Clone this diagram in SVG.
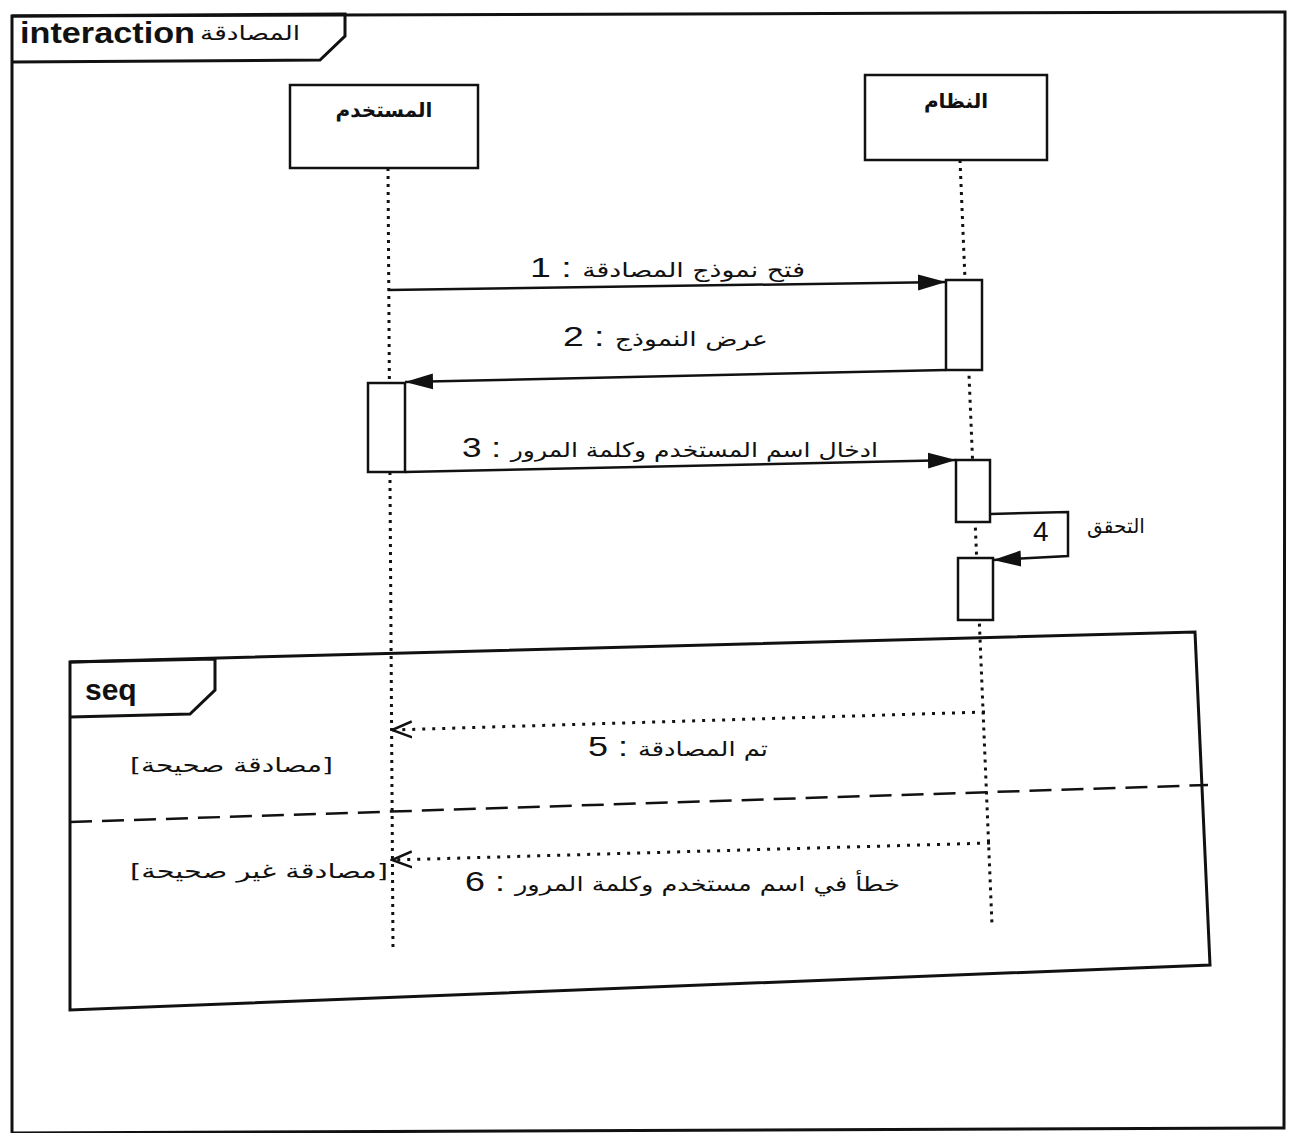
<svg xmlns="http://www.w3.org/2000/svg" width="1292" height="1133" viewBox="0 0 1292 1133">
<style>
.frame{fill:none;stroke:#111;stroke-width:3}
.box{fill:#fff;stroke:#111;stroke-width:2.5}
.life{fill:none;stroke:#111;stroke-width:3;stroke-dasharray:3 5}
.msg{fill:none;stroke:#111;stroke-width:2.5}
.ret{fill:none;stroke:#111;stroke-width:3;stroke-dasharray:3 7}
.div{fill:none;stroke:#111;stroke-width:2.5;stroke-dasharray:22 10}
.kw{font-family:"Liberation Sans",Arial,sans-serif;font-weight:bold;font-size:30px;fill:#111}
.ar{font-family:"DejaVu Sans","Noto Sans",sans-serif;font-size:20px;fill:#111}
.num{font-family:"Liberation Sans",Arial,sans-serif;font-size:28px;fill:#111}
</style>
<defs>
<marker id="fill" markerWidth="30" markerHeight="18" refX="28" refY="9" orient="auto" markerUnits="userSpaceOnUse">
<path d="M0,1 L28,9 L0,17 Z" fill="#111"/>
</marker>
<marker id="open" markerWidth="22" markerHeight="20" refX="20" refY="10" orient="auto" markerUnits="userSpaceOnUse">
<path d="M0,2 L20,10 L0,18" fill="none" stroke="#111" stroke-width="2.5"/>
</marker>
</defs>
<g id="frame">
<path class="frame" d="M12,16 L1285,12 L1284,1128 L12,1133 Z"/>
<path class="frame" d="M12,16 L345,14 L345,36 L320,60 L12,62"/>
<text class="kw" x="20" y="43" textLength="175" lengthAdjust="spacingAndGlyphs">interaction</text>
<text class="ar" x="200" y="40" font-size="15" textLength="100" lengthAdjust="spacingAndGlyphs">المصادقة</text>
</g>
<g id="user">
<rect class="box" x="290" y="85" width="188" height="83"/>
<text class="ar" x="384" y="117" text-anchor="middle" font-size="16" font-weight="bold">المستخدم</text>
</g>
<g id="system">
<rect class="box" x="865" y="75" width="182" height="85"/>
<text class="ar" x="956" y="108" text-anchor="middle" font-size="16" font-weight="bold">النظام</text>
</g>
<g id="lifelines">
<line class="life" x1="388" y1="168" x2="393" y2="948"/>
<line class="life" x1="960" y1="160" x2="992" y2="925"/>
</g>
<g id="activations">
<rect class="box" x="946" y="280" width="36" height="90"/>
<rect class="box" x="368" y="383" width="37" height="89"/>
<rect class="box" x="956" y="460" width="34" height="62"/>
<rect class="box" x="958" y="558" width="35" height="62"/>
</g>
<g id="seq">
<path class="frame" d="M70,662 L1195,632 L1210,965 L70,1010 Z"/>
<path class="frame" d="M70,662 L215,659 L215,690 L190,714 L70,717"/>
<text class="kw" x="85" y="700" font-size="27">seq</text>
<line class="div" x1="70" y1="822" x2="1208" y2="785"/>
</g>
<g id="connectors">
<line class="msg" x1="388" y1="290" x2="946" y2="282" marker-end="url(#fill)"/>
<line class="msg" x1="946" y1="370" x2="405" y2="382" marker-end="url(#fill)"/>
<line class="msg" x1="405" y1="472" x2="956" y2="460" marker-end="url(#fill)"/>
<path class="msg" d="M990,514 L1068,512 L1068,556 L993,560" marker-end="url(#fill)"/>
<line class="ret" x1="985" y1="712" x2="392" y2="730" marker-end="url(#open)"/>
<line class="ret" x1="990" y1="843" x2="392" y2="860" marker-end="url(#open)"/>
</g>
<g id="labels">
<text class="ar" x="530" y="277" textLength="275" lengthAdjust="spacingAndGlyphs"><tspan class="num">1 : </tspan>فتح نموذج المصادقة</text>
<text class="ar" x="563" y="346" textLength="205" lengthAdjust="spacingAndGlyphs"><tspan class="num">2 : </tspan>عرض النموذج</text>
<text class="ar" x="462" y="457" textLength="416" lengthAdjust="spacingAndGlyphs"><tspan class="num">3 : </tspan>ادخال اسم المستخدم وكلمة المرور</text>
<text class="num" x="1033" y="541">4</text>
<text class="ar" x="1087" y="533" textLength="58" lengthAdjust="spacingAndGlyphs">التحقق</text>
<text class="ar" x="588" y="756" textLength="180" lengthAdjust="spacingAndGlyphs"><tspan class="num">5 : </tspan>تم المصادقة</text>
<text class="ar" x="130" y="772" textLength="203" lengthAdjust="spacingAndGlyphs">[مصادقة صحيحة]</text>
<text class="ar" x="465" y="891" textLength="435" lengthAdjust="spacingAndGlyphs"><tspan class="num">6 : </tspan>خطأ في اسم مستخدم وكلمة المرور</text>
<text class="ar" x="130" y="878" textLength="258" lengthAdjust="spacingAndGlyphs">[مصادقة غير صحيحة]</text>
</g>
</svg>
